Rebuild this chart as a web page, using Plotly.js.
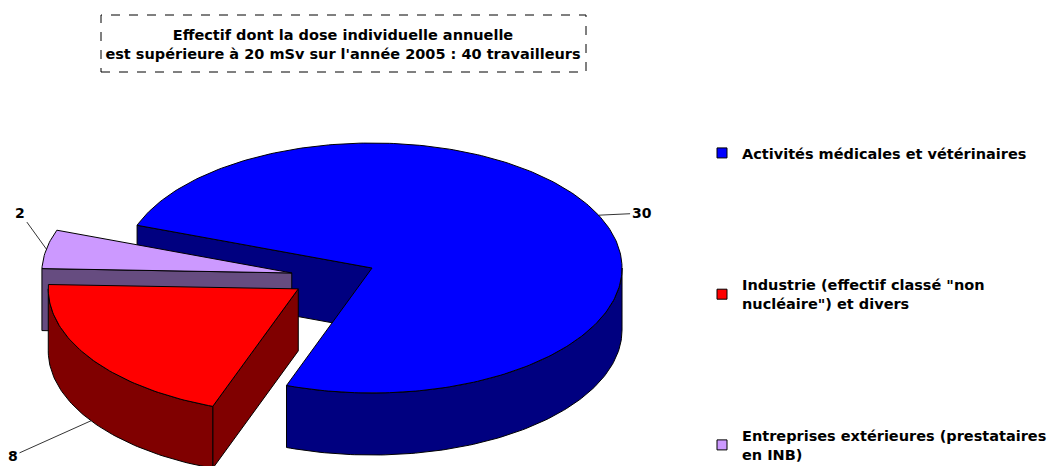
<!DOCTYPE html>
<html><head><meta charset="utf-8">
<script src="https://cdn.plot.ly/plotly-3.0.1.min.js"></script>
<style>html,body{margin:0;padding:0;background:#fff}</style>
</head><body>
<div id="chart" style="width:1050px;height:466px"></div>
<script>
// ---- data ----
const categories = ["Activités médicales et vétérinaires", "Industrie (effectif classé \"non nucléaire\") et divers", "Entreprises extérieures (prestataires en INB)"];
const legendLabels = ["Activités médicales et vétérinaires", "Industrie (effectif classé \"non<br>nucléaire\") et divers", "Entreprises extérieures (prestataires<br>en INB)"];
const values = [30, 8, 2];
const titleLines = ["Effectif dont la dose individuelle annuelle", "est supérieure à 20 mSv sur l'année 2005 : 40 travailleurs"];

// ---- style ----
const topColors = ["#0000FF", "#FF0000", "#CC99FF"];
const sideColors = ["#000080", "#800000", "#664C80"];
const FONT = "DejaVu Sans";
const G = {cx: 333.5, cy: 277, rx: 250, ry: 125, depth: 62, explode: 0.17, startAngle: 160};
const labelOffsets = [[43, -2], [-78, 35], [-26, -36]];

const rad = d => d * Math.PI / 180;
const total = values.reduce((a, b) => a + b, 0);
let cur = G.startAngle;
const slices = values.map((v, i) => {
  const span = v / total * 360;
  const a0 = cur, a1 = cur - span, mid = (a0 + a1) / 2;
  cur = a1;
  return {i, a0, a1, mid,
    px: G.cx + G.explode * G.rx * Math.cos(rad(mid)),
    py: G.cy - G.explode * G.ry * Math.sin(rad(mid))};
});
const rim = (s, ang, dz) => [s.px + G.rx * Math.cos(rad(ang)), s.py - G.ry * Math.sin(rad(ang)) + (dz || 0)];
function arc(s, from, to, dz) {
  const pts = [], n = Math.max(2, Math.ceil(Math.abs(to - from)));
  for (let k = 0; k <= n; k++) pts.push(rim(s, from + (to - from) * k / n, dz));
  return pts;
}
function poly(pts, fill) {
  const x = pts.map(p => p[0]), y = pts.map(p => p[1]);
  x.push(x[0]); y.push(y[0]);
  return {type: "scatter", mode: "lines", x, y, fill: "toself", fillcolor: fill,
    line: {color: "#000", width: 1}, hoverinfo: "skip", showlegend: false};
}
function radialFace(s, e) {
  return poly([[s.px, s.py], rim(s, e), rim(s, e, G.depth), [s.px, s.py + G.depth]], sideColors[s.i]);
}
const sideTraces = [], topTraces = [];
// back-to-front order of side faces
const order = [0, 2, 1];
order.forEach(idx => {
  const s = slices[idx];
  if (Math.cos(rad(s.a0)) < 0) sideTraces.push(radialFace(s, s.a0));
  if (Math.cos(rad(s.a1)) > 0) sideTraces.push(radialFace(s, s.a1));
  for (let k = -1; k <= 1; k++) {
    const lo = Math.max(s.a1, -180 + 360 * k), hi = Math.min(s.a0, 360 * k);
    if (hi - lo > 0.5) {
      const pts = arc(s, lo, hi, 0).concat(arc(s, hi, lo, G.depth));
      sideTraces.push(poly(pts, sideColors[s.i]));
    }
  }
});
slices.forEach(s => {
  topTraces.push(poly([[s.px, s.py]].concat(arc(s, s.a0, s.a1, 0)), topColors[s.i]));
});
const legendTraces = categories.map((c, i) => ({
  type: "scatter", mode: "markers", x: [null], y: [null], name: legendLabels[i],
  legendgroup: "g" + i, showlegend: true,
  marker: {symbol: "square", size: 10, color: topColors[i], line: {color: "#000", width: 1}}
}));
const annotations = slices.map(s => {
  const front = Math.sin(rad(s.mid)) < 0;
  const p = rim(s, s.mid, front ? G.depth : 0);
  return {x: p[0], y: p[1], xref: "x", yref: "y", text: String(values[s.i]),
    showarrow: true, arrowhead: 0, arrowwidth: 0.8, arrowcolor: "#000", standoff: 0,
    ax: labelOffsets[s.i][0], ay: labelOffsets[s.i][1],
    font: {family: FONT, size: 14, color: "#000", weight: "bold"}};
});
const layout = {
  width: 1050, height: 466, margin: {l: 0, r: 0, t: 0, b: 0, autoexpand: false},
  paper_bgcolor: "#fff", plot_bgcolor: "#fff",
  xaxis: {range: [0, 1050], visible: false, fixedrange: true},
  yaxis: {range: [466, 0], visible: false, fixedrange: true},
  title: {text: titleLines.join("<br>"), x: 343 / 1050, xanchor: "center", xref: "paper",
    y: 1 - 40 / 466, yanchor: "middle", yref: "container",
    font: {family: FONT, size: 14.5, color: "#000", weight: "bold"}},
  shapes: [{type: "rect", xref: "paper", yref: "paper", x0: 101 / 1050, x1: 586 / 1050,
    y0: 1 - 72 / 466, y1: 1 - 15 / 466, line: {color: "#000", width: 1, dash: "dash"}}],
  legend: {x: 702 / 1050, xanchor: "left", y: 1 - 137 / 466, yanchor: "top",
    traceorder: "grouped", tracegroupgap: 110, bgcolor: "rgba(0,0,0,0)",
    font: {family: FONT, size: 14.5, color: "#000", weight: "bold"}},
  annotations, showlegend: true
};
Plotly.newPlot("chart", sideTraces.concat(topTraces, legendTraces), layout, {staticPlot: true, displayModeBar: false});
</script>
</body></html>
